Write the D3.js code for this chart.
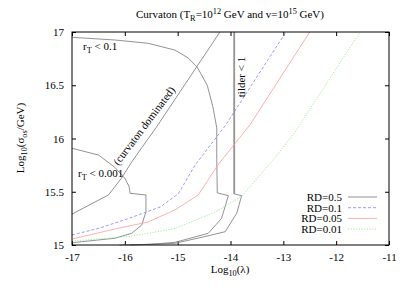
<!DOCTYPE html>
<html>
<head>
<meta charset="utf-8">
<script src="https://cdn.jsdelivr.net/npm/d3@7"></script>
<style>
  body { margin: 0; background: #fff; }
  text { font-family: "Liberation Serif", "DejaVu Serif", serif; }
</style>
</head>
<body>
<svg id="chart"></svg>
<script>
// axis ticks
const xTicks = [-17, -16, -15, -14, -13, -12, -11];
const yTicks = [15, 15.5, 16, 16.5, 17];

// colored curves: [log10(lambda), log10(sigma/GeV)]
const rd01 = [[-17, 15.094], [-16.47, 15.16], [-15.9, 15.254], [-15.33, 15.357], [-14.99, 15.48],
              [-14.67, 15.75], [-14.1, 16.12], [-12.95, 17.0]];
const rd005 = [[-17, 15.056], [-16.19, 15.15], [-15.56, 15.216], [-15.05, 15.33], [-14.61, 15.47],
               [-14.24, 15.75], [-13.63, 16.13], [-12.5, 17.0]];
const rd001 = [[-17, 15.038], [-15.9, 15.08], [-15.05, 15.155], [-14.29, 15.31], [-13.78, 15.46],
               [-13.16, 15.82], [-12.78, 16.06], [-11.55, 17.0]];

// black constraint curves (RD=0.5)
const rT01 = [[-17, 16.95], [-16.19, 16.925], [-15.56, 16.894], [-15.05, 16.83], [-14.8, 16.756],
              [-14.63, 16.67], [-14.44, 16.5], [-14.33, 16.29], [-14.26, 16.1], [-14.26, 15.8],
              [-14.25, 15.49], [-14.04, 15.463], [-14.17, 15.25], [-14.42, 15.11], [-15.05, 15.025],
              [-15.52, 15.006], [-16.1, 15.0]];
const tilder = [[-13.93, 17.0], [-13.93, 15.48], [-13.79, 15.463], [-13.88, 15.3], [-14.1, 15.125],
                [-14.52, 15.075], [-15.05, 15.016], [-15.9, 15.0]];
const rT0001 = [[-17, 15.908], [-16.5, 15.845], [-16.19, 15.73], [-16.0, 15.626], [-15.92, 15.55],
                [-15.9, 15.485], [-15.6, 15.47], [-15.6, 15.313], [-15.68, 15.188], [-15.87, 15.11],
                [-16.19, 15.063], [-16.82, 15.031], [-17, 15.02]];
const curvatonDom = [[-17, 15.29], [-16.31, 15.47], [-16.06, 15.63], [-15.87, 15.78], [-15.37, 16.13],
                     [-14.2, 17.0]];

const legendLabels = ["RD=0.5", "RD=0.1", "RD=0.05", "RD=0.01"];

const W = 415, H = 291;
const margin = {top: 32, right: 26, bottom: 46, left: 72};

const svg = d3.select("#chart").attr("width", W).attr("height", H);

const x = d3.scaleLinear().domain([-17, -11]).range([margin.left, W - margin.right]);
const y = d3.scaleLinear().domain([15, 17]).range([H - margin.bottom, margin.top]);

// text with sub/superscripts
function richText(sel, parts, size) {
  let shift = 0;
  parts.forEach(([t, m]) => {
    const target = m === "sub" ? size * 0.3 : m === "sup" ? -size * 0.4 : 0;
    const ts = sel.append("tspan").text(t).attr("dy", target - shift);
    if (m) ts.attr("font-size", size * 0.75);
    shift = target;
  });
}

// axes, ticks pointing inward
svg.append("g")
  .attr("transform", `translate(0,${y(15)})`)
  .call(d3.axisBottom(x).tickValues(xTicks).tickSize(-4).tickPadding(8).tickFormat(d => String(d)))
  .call(g => g.select(".domain").remove())
  .call(g => g.selectAll("text").attr("font-size", 11).attr("font-family", "Liberation Serif").attr("fill", "#000"));

svg.append("g")
  .attr("transform", `translate(${x(-17)},0)`)
  .call(d3.axisLeft(y).tickValues(yTicks).tickSize(-4).tickPadding(8).tickFormat(d => String(d)))
  .call(g => g.select(".domain").remove())
  .call(g => g.selectAll("text").attr("font-size", 11).attr("font-family", "Liberation Serif").attr("fill", "#000"));

svg.append("g")
  .attr("transform", `translate(0,${y(17)})`)
  .call(d3.axisTop(x).tickValues(xTicks).tickSize(-4).tickFormat(""))
  .call(g => g.select(".domain").remove());

svg.append("g")
  .attr("transform", `translate(${x(-11)},0)`)
  .call(d3.axisRight(y).tickValues(yTicks).tickSize(-4).tickFormat(""))
  .call(g => g.select(".domain").remove());

const line = d3.line().x(d => x(d[0])).y(d => y(d[1]));

// black curves
svg.append("path").attr("d", line(tilder.slice(0, 2))).attr("fill", "none")
  .attr("stroke", "#bbb").attr("stroke-width", 2);
[rT01, rT0001, curvatonDom, tilder].forEach(c => {
  svg.append("path").attr("d", line(c)).attr("fill", "none")
    .attr("stroke", "#777").attr("stroke-width", 0.8);
});

// colored curves
const styles = [
  {data: null, color: "#777", dash: null},
  {data: rd01, color: "#8080ff", dash: "3,2"},
  {data: rd005, color: "#ff9a9a", dash: null},
  {data: rd001, color: "#80ee80", dash: "1.2,1.5"}
];
styles.forEach(s => {
  if (!s.data) return;
  svg.append("path").attr("d", line(s.data)).attr("fill", "none")
    .attr("stroke", s.color).attr("stroke-width", 0.8)
    .attr("stroke-dasharray", s.dash);
});

// frame
svg.append("rect")
  .attr("x", x(-17)).attr("y", y(17))
  .attr("width", x(-11) - x(-17)).attr("height", y(15) - y(17))
  .attr("fill", "none").attr("stroke", "#000").attr("stroke-width", 1);

// legend
const leg = svg.append("g");
legendLabels.forEach((lab, i) => {
  const ly = 197 + i * 10.7;
  leg.append("text").attr("x", 342).attr("y", ly + 4).attr("text-anchor", "end")
    .attr("font-size", 11).text(lab);
  leg.append("line").attr("x1", 348).attr("x2", 377).attr("y1", ly).attr("y2", ly)
    .attr("stroke", styles[i].color).attr("stroke-width", 0.8)
    .attr("stroke-dasharray", styles[i].dash);
});

// annotations
richText(svg.append("text").attr("x", 83).attr("y", 50).attr("font-size", 11),
  [["r"], ["T", "sub"], [" < 0.1"]], 11);
richText(svg.append("text").attr("x", 78).attr("y", 177).attr("font-size", 11),
  [["r"], ["T", "sub"], [" < 0.001"]], 11);
svg.append("text").attr("font-size", 11).attr("text-anchor", "middle")
  .attr("transform", "translate(147,128) rotate(-53)")
  .text("(curvaton dominated)");
svg.append("text").attr("font-size", 11).attr("text-anchor", "middle")
  .attr("transform", "translate(245,77) rotate(-90)")
  .text("tilder < 1");

// title and axis labels
richText(svg.append("text").attr("x", 230).attr("y", 18).attr("font-size", 11).attr("text-anchor", "middle"),
  [["Curvaton (T"], ["R", "sub"], ["=10"], ["12", "sup"], [" GeV and v=10"], ["15", "sup"], [" GeV)"]], 11);
richText(svg.append("text").attr("x", 230).attr("y", 273).attr("font-size", 11).attr("text-anchor", "middle"),
  [["Log"], ["10", "sub"], ["(λ)"]], 11);
richText(svg.append("text").attr("font-size", 11).attr("text-anchor", "middle")
  .attr("transform", "translate(24,138) rotate(-90)"),
  [["Log"], ["10", "sub"], ["(σ"], ["os", "sub"], ["/GeV)"]], 11);
</script>
</body>
</html>
